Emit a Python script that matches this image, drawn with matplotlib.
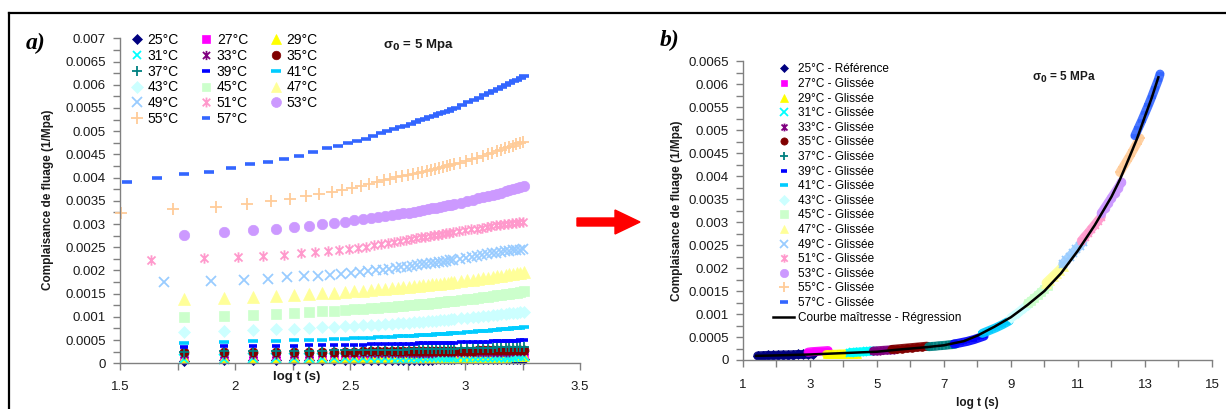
"""Creep compliance curves (a) and the shifted master curve (b)."""

import matplotlib

matplotlib.use("Agg")
import matplotlib.pyplot as plt  # noqa: E402
import numpy as np  # noqa: E402
from matplotlib.lines import Line2D  # noqa: E402
from matplotlib.path import Path  # noqa: E402
from matplotlib.patches import FancyArrow  # noqa: E402
from matplotlib.ticker import FuncFormatter, MultipleLocator  # noqa: E402

W, H = 1226, 409

TEMPS = [25, 27, 29, 31, 33, 35, 37, 39, 41, 43, 45, 47, 49, 51, 53, 55, 57]

# time (s) of the readings, common grid and the series recorded on their own clock
T_GRID = [60, 90, 120, 150, 180, 210, 240, 270, 300, 330, 360, 390, 420, 450, 480, 510, 540,
          570, 600, 630, 660, 690, 720, 750, 780, 810, 840, 870, 900, 960, 1020, 1080, 1140,
          1200, 1260, 1320, 1380, 1440, 1500, 1560, 1620, 1680, 1740, 1800]
T_49 = [49, 79, 109, 139, 169, 199, 229, 259, 289, 319, 349, 379, 409, 439, 469, 499, 529,
        559, 589, 619, 649, 679, 709, 739, 769, 799, 829, 859, 889, 949, 1009, 1069, 1129,
        1189, 1249, 1309, 1369, 1429, 1489, 1549, 1609, 1669, 1729, 1789]
T_51 = [43, 73, 103, 133, 163, 193, 223, 253, 283, 313, 343, 373, 403, 433, 463, 493, 523,
        553, 583, 613, 643, 673, 703, 733, 763, 793, 823, 853, 883, 943, 1003, 1063, 1123,
        1183, 1243, 1303, 1363, 1423, 1483, 1543, 1603, 1663, 1723, 1783]
T_55 = [32, 54, 83, 113, 143, 173, 203, 233, 263, 293, 323, 353, 383, 413, 443, 473, 503,
        533, 563, 593, 623, 653, 683, 713, 743, 773, 803, 833, 863, 893, 953, 1013, 1073,
        1133, 1193, 1253, 1313, 1373, 1433, 1493, 1553, 1613, 1673, 1733, 1793]
T_57 = [34, 46, 60, 77, 96, 116, 139, 164, 190, 218, 250, 281, 310, 340, 370, 400, 430, 460,
        490, 520, 550, 580, 610, 640, 670, 700, 730, 760, 790, 820, 850, 880, 910, 970, 1030,
        1090, 1150, 1210, 1270, 1330, 1390, 1450, 1510, 1570, 1630, 1690, 1750, 1800]

# creep compliance, in 1e-4 1/MPa
J_25 = [.60, .62, .63, .65, .66, .67, .68, .70, .70, .71, .72, .73, .74, .75, .76, .76, .77,
        .78, .79, .79, .80, .81, .81, .82, .82, .83, .84, .84, .85, .86, .87, .88, .89, .90,
        .91, .92, .93, .94, .95, .96, .97, .97, .98, .99]
J_27 = [1.40, 1.42, 1.44, 1.46, 1.48, 1.49, 1.51, 1.52, 1.53, 1.54, 1.55, 1.57, 1.58, 1.59,
        1.60, 1.61, 1.61, 1.62, 1.63, 1.64, 1.65, 1.66, 1.67, 1.67, 1.68, 1.69, 1.70, 1.70,
        1.71, 1.72, 1.74, 1.75, 1.76, 1.78, 1.79, 1.80, 1.81, 1.82, 1.84, 1.85, 1.86, 1.87,
        1.88, 1.89]
J_29 = [1.20, 1.21, 1.23, 1.24, 1.25, 1.26, 1.26, 1.27, 1.28, 1.29, 1.29, 1.30, 1.31, 1.31,
        1.32, 1.32, 1.33, 1.33, 1.34, 1.34, 1.35, 1.35, 1.36, 1.36, 1.37, 1.37, 1.38, 1.38,
        1.39, 1.39, 1.40, 1.41, 1.42, 1.43, 1.43, 1.44, 1.45, 1.45, 1.46, 1.47, 1.47, 1.48,
        1.49, 1.49]
J_31 = [1.00, 1.02, 1.04, 1.06, 1.08, 1.09, 1.11, 1.12, 1.13, 1.14, 1.15, 1.17, 1.18, 1.19,
        1.20, 1.21, 1.21, 1.22, 1.23, 1.24, 1.25, 1.26, 1.27, 1.27, 1.28, 1.29, 1.30, 1.30,
        1.31, 1.32, 1.34, 1.35, 1.36, 1.38, 1.39, 1.40, 1.41, 1.42, 1.44, 1.45, 1.46, 1.47,
        1.48, 1.49]
J_33 = [2.00, 2.03, 2.05, 2.07, 2.09, 2.11, 2.13, 2.14, 2.16, 2.17, 2.19, 2.20, 2.21, 2.22,
        2.23, 2.25, 2.26, 2.27, 2.28, 2.29, 2.30, 2.31, 2.32, 2.33, 2.34, 2.35, 2.36, 2.36,
        2.37, 2.39, 2.41, 2.42, 2.44, 2.45, 2.47, 2.48, 2.50, 2.51, 2.52, 2.54, 2.55, 2.56,
        2.57, 2.59]
J_35 = [2.40, 2.42, 2.44, 2.46, 2.48, 2.49, 2.51, 2.52, 2.53, 2.54, 2.55, 2.57, 2.58, 2.59,
        2.60, 2.61, 2.61, 2.62, 2.63, 2.64, 2.65, 2.66, 2.67, 2.67, 2.68, 2.69, 2.70, 2.70,
        2.71, 2.72, 2.74, 2.75, 2.76, 2.78, 2.79, 2.80, 2.81, 2.82, 2.84, 2.85, 2.86, 2.87,
        2.88, 2.89]
J_37 = [2.50, 2.55, 2.60, 2.63, 2.67, 2.70, 2.73, 2.76, 2.79, 2.82, 2.84, 2.86, 2.89, 2.91,
        2.93, 2.95, 2.97, 2.99, 3.01, 3.03, 3.05, 3.07, 3.08, 3.10, 3.12, 3.13, 3.15, 3.17,
        3.18, 3.21, 3.24, 3.27, 3.30, 3.33, 3.36, 3.38, 3.41, 3.43, 3.46, 3.48, 3.51, 3.53,
        3.55, 3.58]
J_39 = [3.60, 3.67, 3.72, 3.77, 3.82, 3.86, 3.90, 3.93, 3.97, 4.00, 4.03, 4.06, 4.09, 4.12,
        4.15, 4.18, 4.20, 4.23, 4.25, 4.27, 4.30, 4.32, 4.34, 4.36, 4.39, 4.41, 4.43, 4.45,
        4.47, 4.51, 4.55, 4.58, 4.62, 4.66, 4.69, 4.72, 4.76, 4.79, 4.82, 4.85, 4.88, 4.91,
        4.94, 4.97]
J_41 = [4.40, 4.56, 4.70, 4.81, 4.92, 5.03, 5.12, 5.21, 5.29, 5.38, 5.45, 5.53, 5.60, 5.66,
        5.73, 5.80, 5.86, 5.92, 5.98, 6.04, 6.10, 6.15, 6.20, 6.26, 6.31, 6.36, 6.41, 6.46,
        6.51, 6.60, 6.70, 6.79, 6.88, 6.96, 7.05, 7.13, 7.21, 7.29, 7.36, 7.44, 7.51, 7.58,
        7.66, 7.73]
J_43 = [6.80, 7.01, 7.18, 7.34, 7.48, 7.61, 7.73, 7.85, 7.95, 8.06, 8.16, 8.26, 8.35, 8.44,
        8.52, 8.61, 8.68, 8.77, 8.84, 8.92, 9.00, 9.07, 9.13, 9.20, 9.27, 9.34, 9.40, 9.47,
        9.53, 9.65, 9.78, 9.89, 10.01, 10.12, 10.22, 10.33, 10.43, 10.54, 10.63, 10.73,
        10.83, 10.92, 11.02, 11.11]
J_45 = [10.00, 10.26, 10.49, 10.68, 10.86, 11.03, 11.19, 11.33, 11.47, 11.61, 11.73, 11.85,
        11.97, 12.08, 12.19, 12.30, 12.40, 12.50, 12.60, 12.69, 12.79, 12.88, 12.97, 13.06,
        13.15, 13.23, 13.32, 13.40, 13.48, 13.63, 13.79, 13.94, 14.08, 14.22, 14.36, 14.50,
        14.63, 14.75, 14.88, 15.01, 15.13, 15.24, 15.36, 15.48]
J_47 = [13.80, 14.08, 14.32, 14.53, 14.72, 14.90, 15.07, 15.23, 15.37, 15.52, 15.65, 15.79,
        15.91, 16.03, 16.15, 16.27, 16.37, 16.48, 16.58, 16.69, 16.79, 16.89, 16.98, 17.08,
        17.17, 17.26, 17.35, 17.44, 17.53, 17.69, 17.86, 18.02, 18.17, 18.32, 18.47, 18.62,
        18.76, 18.89, 19.03, 19.16, 19.30, 19.42, 19.55, 19.67]
J_49 = [17.6, 17.8, 18.0, 18.2, 18.5, 18.7, 18.9, 19.1, 19.2, 19.4, 19.6, 19.8, 20.0, 20.2,
        20.3, 20.5, 20.7, 20.8, 21.0, 21.1, 21.3, 21.4, 21.6, 21.7, 21.8, 21.9, 22.1, 22.2,
        22.3, 22.5, 22.7, 22.9, 23.1, 23.3, 23.5, 23.7, 23.8, 24.0, 24.1, 24.2, 24.3, 24.4,
        24.5, 24.6]
J_51 = [22.2, 22.6, 22.8, 23.1, 23.4, 23.7, 23.9, 24.1, 24.3, 24.6, 24.8, 25.1, 25.4, 25.8,
        26.0, 26.2, 26.4, 26.6, 26.8, 27.0, 27.1, 27.3, 27.4, 27.6, 27.7, 27.9, 28.0, 28.1,
        28.3, 28.5, 28.7, 28.9, 29.0, 29.2, 29.4, 29.5, 29.7, 29.8, 29.9, 30.0, 30.2, 30.3,
        30.4, 30.5]
J_53 = [27.70, 28.20, 28.63, 29.01, 29.35, 29.67, 29.97, 30.25, 30.50, 30.77, 31.01, 31.24,
        31.47, 31.68, 31.88, 32.10, 32.28, 32.48, 32.66, 32.85, 33.04, 33.21, 33.37, 33.54,
        33.71, 33.87, 34.03, 34.19, 34.34, 34.63, 34.94, 35.22, 35.50, 35.77, 36.02, 36.29,
        36.54, 36.78, 37.02, 37.27, 37.50, 37.72, 37.95, 38.20]
J_55 = [32.4, 33.2, 33.7, 34.3, 34.9, 35.4, 36.0, 36.5, 36.8, 37.3, 37.7, 38.1, 38.6, 39.1,
        39.5, 39.8, 40.1, 40.3, 40.6, 40.8, 41.0, 41.3, 41.5, 41.7, 41.9, 42.1, 42.3, 42.5,
        42.7, 42.9, 43.2, 43.6, 43.9, 44.2, 44.6, 45.0, 45.3, 45.7, 46.0, 46.3, 46.6, 46.9,
        47.2, 47.5, 47.7]
J_57 = [39.1, 39.9, 40.7, 41.3, 42.0, 42.9, 43.4, 44.0, 44.7, 45.5, 46.3, 46.9, 47.4, 47.9,
        48.4, 49.0, 49.7, 50.1, 50.5, 50.8, 51.1, 51.5, 51.9, 52.3, 52.6, 53.0, 53.3, 53.6,
        53.9, 54.1, 54.4, 54.7, 55.0, 55.6, 56.2, 56.7, 57.2, 57.7, 58.2, 58.7, 59.1, 59.5,
        59.9, 60.3, 60.7, 61.1, 61.5, 61.9]

# shifted data on the master curve: reduced log t and compliance (1e-4 1/MPa)
R25_X = [1.45, 1.6, 1.75, 1.9, 2.05, 2.2, 2.35, 2.5, 2.65, 2.8, 2.95, 3.1]
R25_J = [0.9, 0.95, 1.0, 1.0, 1.05, 1.1, 1.1, 1.15, 1.2, 1.2, 1.25, 1.3]
R27_X = [2.95, 3.05, 3.15, 3.25, 3.35, 3.45, 3.55]
R27_J = [1.7, 1.8, 1.85, 1.9, 1.95, 2.0, 2.05]
R29_X = [3.5, 3.6, 3.7, 3.8, 3.9, 4.0, 4.1, 4.2, 4.3, 4.4]
R29_J = [1.2, 1.2, 1.25, 1.25, 1.3, 1.3, 1.35, 1.35, 1.4, 1.4]
R31_X = [4.2, 4.3, 4.4, 4.5, 4.6, 4.7, 4.8, 4.9]
R31_J = [1.6, 1.65, 1.7, 1.75, 1.8, 1.85, 1.9, 1.95]
R33_X = [4.9, 5.0, 5.1, 5.2, 5.3, 5.4, 5.5]
R33_J = [1.95, 2.0, 2.05, 2.1, 2.15, 2.2, 2.25]
R35_X = [5.45, 5.6, 5.75, 5.9, 6.05, 6.2, 6.35, 6.5]
R35_J = [2.3, 2.4, 2.5, 2.6, 2.7, 2.8, 2.9, 3.0]
R37_X = [6.55, 6.65, 6.75, 6.85, 6.95, 7.05, 7.15, 7.25, 7.35]
R37_J = [2.9, 2.95, 3.0, 3.1, 3.15, 3.2, 3.3, 3.35, 3.45]
R39_X = [7.3, 7.4, 7.5, 7.6, 7.7, 7.8, 7.9, 8.0, 8.1, 8.2]
R39_J = [3.5, 3.6, 3.75, 3.9, 4.05, 4.25, 4.45, 4.7, 4.95, 5.2]
R41_X = [8.15, 8.25, 8.35, 8.45, 8.55, 8.65, 8.75, 8.85, 8.95]
R41_J = [5.8, 6.1, 6.4, 6.7, 7.0, 7.35, 7.7, 8.1, 8.5]
R43_X = [9.0, 9.1, 9.2, 9.3, 9.4, 9.5]
R43_J = [9.2, 9.7, 10.2, 10.8, 11.4, 12.0]
R45_X = [9.5, 9.6, 9.7, 9.8, 9.9, 10.0, 10.1]
R45_J = [12.3, 12.9, 13.5, 14.1, 14.8, 15.5, 16.2]
R47_X = [10.05, 10.15, 10.25, 10.35, 10.45, 10.55]
R47_J = [16.8, 17.5, 18.2, 18.9, 19.6, 20.4]
R49_X = [10.55, 10.65, 10.75, 10.85, 10.95, 11.05, 11.15]
R49_J = [20.9, 21.7, 22.5, 23.3, 24.1, 24.9, 25.7]
R51_X = [11.1, 11.2, 11.3, 11.4, 11.5, 11.6, 11.7]
R51_J = [25.9, 26.8, 27.6, 28.5, 29.4, 30.3, 31.2]
R53_X = [11.7, 11.8, 11.9, 12.0, 12.1, 12.2, 12.3]
R53_J = [32.0, 33.1, 34.2, 35.3, 36.4, 37.5, 38.7]
R55_X = [12.25, 12.35, 12.45, 12.55, 12.65, 12.75, 12.85]
R55_J = [40.8, 42.0, 43.2, 44.4, 45.7, 47.0, 48.3]
R57_X = [12.7, 12.8, 12.9, 13.0, 13.1, 13.2, 13.3, 13.4, 13.45]
R57_J = [48.8, 50.4, 52.0, 53.7, 55.4, 57.2, 59.1, 61.0, 62.2]

MASTER_X = [1.4, 2.0, 3.0, 4.0, 5.0, 5.7, 6.5, 7.0, 7.6, 8.0, 8.5, 9.0, 9.5, 10.0, 10.5,
            11.0, 11.5, 12.0, 12.25, 12.5, 12.75, 13.0, 13.2, 13.4]
MASTER_J = [0.9, 1.0, 1.2, 1.5, 1.8, 2.3, 2.8, 3.2, 4.1, 5.3, 7.2, 9.3, 12.0, 15.0, 18.9,
            23.8, 29.3, 35.5, 39.2, 43.5, 47.9, 53.0, 57.0, 61.5]

STAR = Path([(-1, -1), (1, 1), (-1, 1), (1, -1), (0, -1.3), (0, 1.3)],
            [Path.MOVETO, Path.LINETO] * 3)

# marker, colour, size (pt)
STYLE = {
    25: ("D", "#000080", 5.5),
    27: ("s", "#ff00ff", 5.5),
    29: ("^", "#ffff00", 7.0),
    31: ("x", "#00ffff", 6.5),
    33: (STAR, "#800080", 7.0),
    35: ("o", "#800000", 6.5),
    37: ("+", "#008080", 7.5),
    39: ("_", "#0000ff", 5.5),
    41: ("_", "#00ccff", 7.5),
    43: ("D", "#ccffff", 6.0),
    45: ("s", "#ccffcc", 6.5),
    47: ("^", "#ffff99", 8.0),
    49: ("x", "#99ccff", 7.5),
    51: (STAR, "#ff99cc", 7.5),
    53: ("o", "#cc99ff", 7.5),
    55: ("+", "#ffcc99", 9.0),
    57: ("_", "#3366ff", 6.5),
}

AXIS_GREY = "#808080"


def _fig(x, y):
    return x / W, 1 - y / H


def _marker_kw(temp, scale=1.0):
    marker, color, size = STYLE[temp]
    kw = dict(marker=marker, markersize=size * scale, linestyle="none")
    if marker in ("x", "+") or marker is STAR:
        kw.update(markeredgecolor=color, markerfacecolor="none", markeredgewidth=1.3)
    elif marker == "_":
        kw.update(markeredgecolor=color, markeredgewidth=2.6)
    else:
        kw.update(markerfacecolor=color, markeredgecolor=color, markeredgewidth=0.5)
    return kw


def _style_axes(ax, xloc, ymaj, ymin, xlim, ylim, xpad):
    ax.set_xlim(*xlim)
    ax.set_ylim(*ylim)
    for side in ("top", "right"):
        ax.spines[side].set_visible(False)
    for side in ("left", "bottom"):
        ax.spines[side].set_color(AXIS_GREY)
        ax.spines[side].set_linewidth(1.0)
    ax.xaxis.set_major_locator(xloc[0])
    ax.xaxis.set_minor_locator(xloc[1])
    ax.yaxis.set_major_locator(MultipleLocator(ymaj))
    ax.yaxis.set_minor_locator(MultipleLocator(ymin))
    fmt = FuncFormatter(lambda v, _: f"{v:g}" if abs(v) > 1e-12 else "0")
    ax.xaxis.set_major_formatter(fmt)
    ax.yaxis.set_major_formatter(fmt)
    ax.tick_params(which="both", direction="out", length=5, width=1.0, color=AXIS_GREY,
                   labelsize=9.5, labelcolor="#1a1a1a")
    ax.tick_params(axis="x", which="major", pad=xpad)
    ax.tick_params(axis="y", which="major", pad=5)
    ax.patch.set_alpha(0)


def main() -> None:
    plt.rcParams["font.family"] = ["Liberation Sans", "DejaVu Sans"]

    times = {t: T_GRID for t in TEMPS}
    times.update({49: T_49, 51: T_51, 55: T_55, 57: T_57})
    comp = {25: J_25, 27: J_27, 29: J_29, 31: J_31, 33: J_33, 35: J_35, 37: J_37, 39: J_39,
            41: J_41, 43: J_43, 45: J_45, 47: J_47, 49: J_49, 51: J_51, 53: J_53, 55: J_55,
            57: J_57}
    shifted = {25: (R25_X, R25_J), 27: (R27_X, R27_J), 29: (R29_X, R29_J),
               31: (R31_X, R31_J), 33: (R33_X, R33_J), 35: (R35_X, R35_J),
               37: (R37_X, R37_J), 39: (R39_X, R39_J), 41: (R41_X, R41_J),
               43: (R43_X, R43_J), 45: (R45_X, R45_J), 47: (R47_X, R47_J),
               49: (R49_X, R49_J), 51: (R51_X, R51_J), 53: (R53_X, R53_J),
               55: (R55_X, R55_J), 57: (R57_X, R57_J)}

    fig = plt.figure(figsize=(W / 100, H / 100), dpi=100)

    # a) raw curves
    ax1 = fig.add_axes([120 / W, 1 - 363.3 / H, 460 / W, 325 / H])
    for temp in TEMPS:
        ax1.plot(np.log10(times[temp]), np.array(comp[temp]) * 1e-4, clip_on=False,
                 **_marker_kw(temp))
    _style_axes(ax1, (MultipleLocator(0.5), MultipleLocator(0.25)), 0.0005, 0.00025,
                (1.5, 3.5), (0, 0.007), 8)

    order = [25, 31, 37, 43, 49, 55, 27, 33, 39, 45, 51, 57, 29, 35, 41, 47, 53]
    handles = [Line2D([], [], **_marker_kw(t, 0.95)) for t in order]
    ax1.legend(handles, [f"{t}°C" for t in order], ncol=3, loc="upper left",
               bbox_to_anchor=_fig(130, 33), bbox_transform=fig.transFigure,
               frameon=False, fontsize=10, handlelength=1.0, handletextpad=0.25,
               columnspacing=1.5, labelspacing=0.13, borderpad=0, borderaxespad=0)

    # b) master curve
    ax2 = fig.add_axes([742.7 / W, 1 - 360 / H, 469.3 / W, 298.8 / H])
    for temp in TEMPS:
        xs, js = shifted[temp]
        color = STYLE[temp][1]
        ax2.plot(xs, np.array(js) * 1e-4, color=color, lw=6.5, solid_capstyle="round",
                 alpha=0.9, zorder=2)
        ax2.plot(xs, np.array(js) * 1e-4, zorder=2, **_marker_kw(temp, 0.85))
    ax2.plot(MASTER_X, np.array(MASTER_J) * 1e-4, color="black", lw=1.8, zorder=3)
    _style_axes(ax2, (MultipleLocator(2, offset=1), MultipleLocator(1)), 0.0005, 0.00025,
                (1, 15), (0, 0.0065), 9)

    handles = [Line2D([], [], **_marker_kw(t, 0.8)) for t in TEMPS]
    labels = ["25°C - Référence"] + [f"{t}°C - Glissée" for t in TEMPS[1:]]
    handles.append(Line2D([], [], color="black", lw=1.8))
    labels.append("Courbe maîtresse - Régression")
    ax2.legend(handles, labels, loc="upper left", bbox_to_anchor=_fig(773, 63.5),
               bbox_transform=fig.transFigure, frameon=False, fontsize=8.5,
               handlelength=1.8, handletextpad=0.3, labelspacing=0.22, borderpad=0,
               borderaxespad=0)

    # labels and annotations
    bold = dict(fontweight="bold", color="#1a1a1a")
    fig.text(*_fig(48, 200), "Complaisance de fluage (1/Mpa)", rotation=90, ha="center",
             va="center", fontsize=8.5, **bold)
    fig.text(*_fig(677, 211), "Complaisance de fluage (1/Mpa)", rotation=90, ha="center",
             va="center", fontsize=8.5, **bold)
    fig.text(*_fig(297, 377), "log t (s)", ha="center", va="center", fontsize=9.5, **bold)
    fig.text(*_fig(977, 403), "log t (s)", ha="center", va="center", fontsize=8.5, **bold)
    fig.text(*_fig(418, 45), r"σ$_\mathbf{0}$ = 5 Mpa", ha="center", va="center",
             fontsize=9.5, **bold)
    fig.text(*_fig(1064, 77), r"σ$_\mathbf{0}$ = 5 MPa", ha="center", va="center",
             fontsize=8.5, **bold)
    for label, (x, y) in (("a)", (26, 43)), ("b)", (660, 40))):
        fig.text(*_fig(x, y), label, ha="left", va="center", fontsize=17,
                 family="Liberation Serif", fontweight="bold", fontstyle="italic")

    x0, y0 = _fig(577, 222)
    fig.add_artist(FancyArrow(x0, y0, 63 / W, 0, width=8 / H, head_width=24 / H,
                              head_length=25 / W, length_includes_head=True, color="red",
                              transform=fig.transFigure))

    # page frame
    fx, fy = _fig(8.5, 12.5)
    fig.add_artist(Line2D([fx, 1], [fy, fy], transform=fig.transFigure, color="black", lw=1.6))
    fig.add_artist(Line2D([fx, fx], [0, fy], transform=fig.transFigure, color="black", lw=1.6))

    fig.savefig("out.png", dpi=100)
    plt.close(fig)


if __name__ == "__main__":
    main()
